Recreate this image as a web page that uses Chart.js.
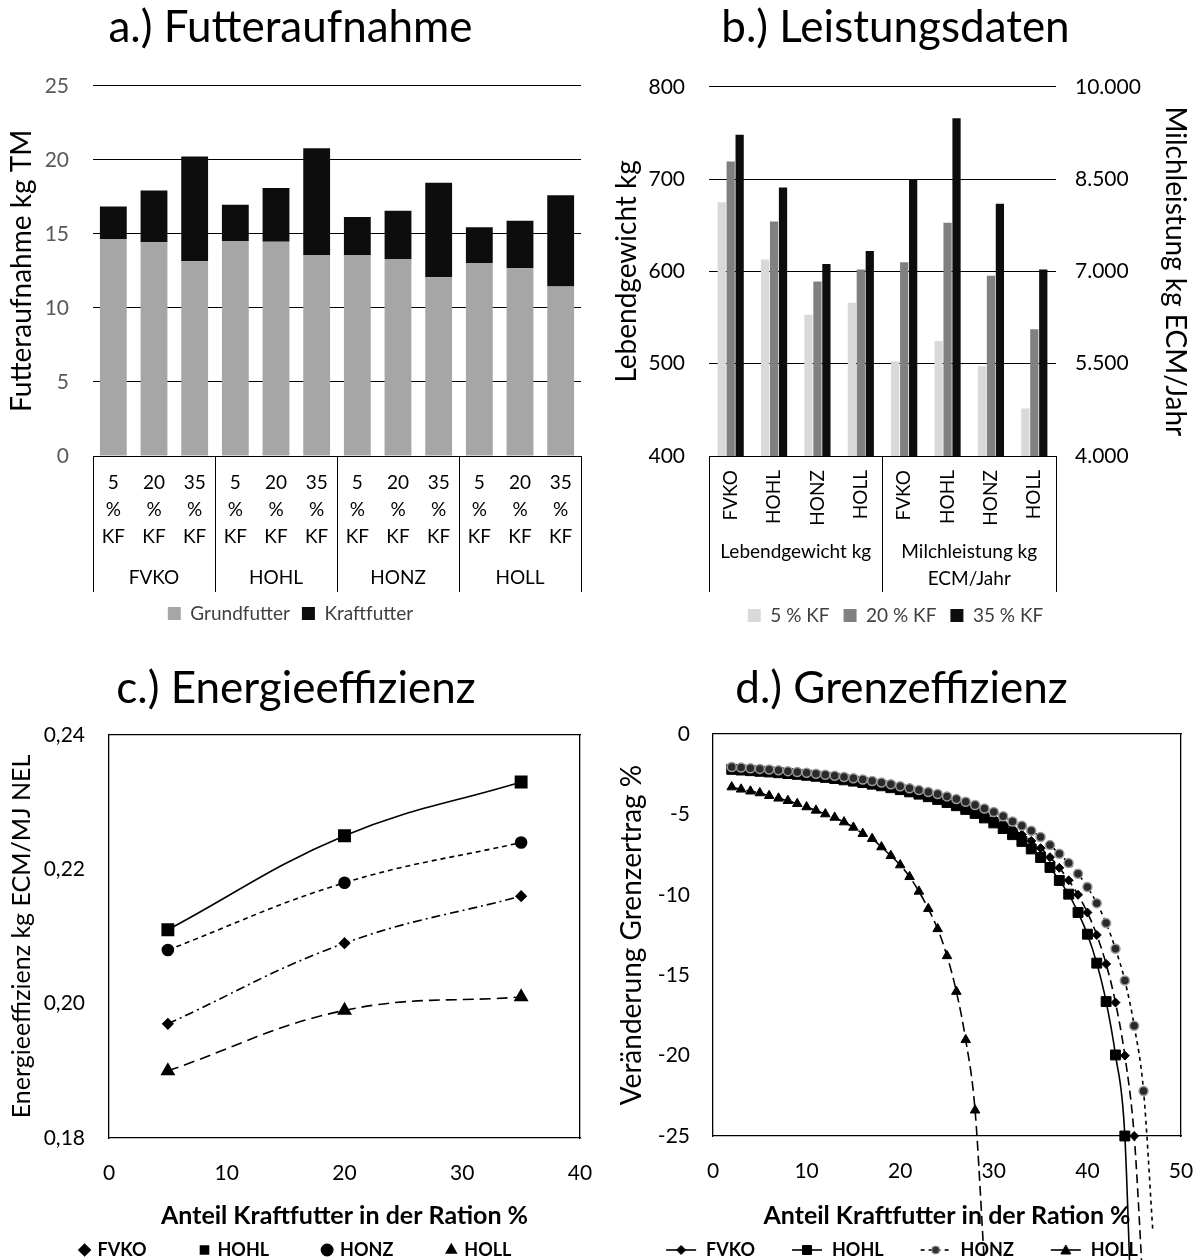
<!DOCTYPE html>
<html>
<head>
<meta charset="utf-8">
<script src="https://cdn.jsdelivr.net/npm/chart.js@4.4.1/dist/chart.umd.min.js"></script>
<style>
  body { margin: 0; background: #fff; overflow: hidden; }
  #wrap { position: relative; width: 1199px; height: 1260px; overflow: hidden; }
  canvas { position: absolute; }
</style>
</head>
<body>
<div id="wrap">
  <canvas id="ca" width="600" height="640" style="left:0;top:0"></canvas>
  <canvas id="cb" width="607" height="640" style="left:592px;top:0"></canvas>
  <canvas id="cc" width="596" height="640" style="left:0;top:640px"></canvas>
  <canvas id="cd" width="599" height="640" style="left:600px;top:640px"></canvas>
</div>
<script>
// ---- Daten ----
const rassen = ['FVKO', 'HOHL', 'HONZ', 'HOLL'];
const kfStufen = ['5', '20', '35'];

// a.) Futteraufnahme kg TM (je Rasse 5/20/35 % KF)
const grundfutter = [14.65, 14.43, 13.15, 14.52, 14.47, 13.58, 13.58, 13.31, 12.07, 13.04, 12.68, 11.45];
const kraftfutter = [2.20, 3.50, 7.07, 2.45, 3.62, 7.21, 2.56, 3.25, 6.38, 2.40, 3.20, 6.16];

// b.) Leistungsdaten
const gruppenB = ['Lebendgewicht kg', ['Milchleistung kg', 'ECM/Jahr']];
const lw5 = [675, 613, 553, 566];
const lw20 = [719, 654, 589, 602];
const lw35 = [748, 691, 608, 622];
const ml5 = [5540, 5870, 5460, 4770];
const ml20 = [7150, 7790, 6930, 6060];
const ml35 = [8500, 9490, 8100, 7030];

// c.) Energieeffizienz
const kfAnteil = [5, 20, 35];
const effFVKO = [0.197, 0.209, 0.216];
const effHOHL = [0.211, 0.225, 0.233];
const effHONZ = [0.208, 0.218, 0.224];
const effHOLL = [0.190, 0.199, 0.201];

// d.) Grenzeffizienz
const grenzKF = [2, 3, 4, 5, 6, 7, 8, 9, 10, 11, 12, 13, 14, 15, 16, 17, 18, 19, 20, 21, 22, 23, 24,
  25, 26, 27, 28, 29, 30, 31, 32, 33, 34, 35, 36, 37, 38, 39, 40, 41, 42, 43, 44, 45, 46, 47];
const grenzFVKO = [-2.10, -2.14, -2.18, -2.22, -2.26, -2.31, -2.36, -2.41, -2.47, -2.53, -2.60, -2.67,
  -2.74, -2.82, -2.91, -3.00, -3.10, -3.21, -3.33, -3.46, -3.60, -3.75, -3.91, -4.09, -4.28, -4.49,
  -4.72, -4.97, -5.25, -5.56, -5.90, -6.26, -6.65, -7.10, -7.66, -8.32, -9.10, -10.0, -11.1, -12.5,
  -14.3, -16.7, -20.0, -25.0, -35.0];
const grenzHOHL = [-2.20, -2.24, -2.28, -2.32, -2.36, -2.41, -2.46, -2.51, -2.57, -2.63, -2.70, -2.77,
  -2.85, -2.93, -3.02, -3.12, -3.22, -3.34, -3.46, -3.60, -3.74, -3.90, -4.07, -4.26, -4.46, -4.69,
  -4.94, -5.22, -5.53, -5.88, -6.26, -6.68, -7.15, -7.68, -8.30, -9.11, -9.96, -11.1, -12.45, -14.25,
  -16.64, -19.96, -25.0, -42.0];
const grenzHONZ = [-2.05, -2.09, -2.13, -2.17, -2.21, -2.26, -2.31, -2.36, -2.41, -2.47, -2.53, -2.60,
  -2.67, -2.75, -2.83, -2.92, -3.02, -3.13, -3.25, -3.38, -3.49, -3.61, -3.73, -3.88, -4.05, -4.21,
  -4.42, -4.63, -4.85, -5.12, -5.44, -5.71, -6.02, -6.41, -6.91, -7.45, -8.03, -8.69, -9.52, -10.52,
  -11.76, -13.36, -15.33, -18.15, -22.2, -31.0];
const grenzHOLL = [-3.30, -3.44, -3.56, -3.67, -3.84, -4.00, -4.15, -4.34, -4.54, -4.75, -4.98, -5.19,
  -5.48, -5.81, -6.20, -6.51, -7.03, -7.57, -8.15, -8.88, -9.79, -10.87, -12.12, -13.80, -16.02,
  -19.02, -23.40, -33.0];

// ---- Allgemeines ----
Chart.defaults.font.family = 'Lato, "Open Sans", sans-serif';
Chart.defaults.color = '#000';
Chart.defaults.animation = false;
Chart.defaults.plugins.tooltip.enabled = false;

// Trennstriche der Kategorieachse nur an Gruppengrenzen
const trenner = n => c => (c.index === undefined || c.index % n === 0) ? '#000' : 'rgba(0,0,0,0)';
const dePunkt = v => String(v).replace(/\B(?=(\d{3})+(?!\d))/g, '.');
const deKomma = v => v.toFixed(2).replace('.', ',');
const punkte = (xs, ys) => ys.map((y, i) => ({ x: xs[i], y: y }));

// ---- a.) Futteraufnahme ----
const aLabels = [];
rassen.forEach(() => kfStufen.forEach(k => aLabels.push([k, '%', 'KF'])));

new Chart(document.getElementById('ca'), {
  type: 'bar',
  data: {
    labels: aLabels,
    datasets: [
      { label: 'Grundfutter', data: grundfutter, backgroundColor: '#a6a6a6', barPercentage: 0.66, categoryPercentage: 1 },
      { label: 'Kraftfutter', data: kraftfutter, backgroundColor: '#0d0d0d', barPercentage: 0.66, categoryPercentage: 1 }
    ]
  },
  options: {
    responsive: false,
    layout: { padding: { left: 0, right: 19, top: 0, bottom: 18 } },
    plugins: {
      title: { display: true, text: 'a.) Futteraufnahme', color: '#000',
        font: { size: 44, weight: 'normal', lineHeight: 1.2 }, padding: { top: 1, bottom: 32 } },
      legend: { position: 'bottom', maxHeight: 30,
        labels: { boxWidth: 13, boxHeight: 13, padding: 12, color: '#404040', font: { size: 19 } } }
    },
    scales: {
      x: {
        stacked: true, weight: 0,
        grid: { drawOnChartArea: false, tickLength: 104, color: trenner(3) },
        border: { color: '#000' },
        ticks: { autoSkip: false, maxRotation: 0, padding: -90.5, color: '#000', font: { size: 19, lineHeight: '27px' } },
        afterFit: s => { s.height = 104; }
      },
      g: {
        type: 'category', labels: rassen, position: 'bottom', weight: 1, offset: true,
        grid: { offset: true, drawOnChartArea: false, tickLength: 32, color: '#000' },
        border: { display: false },
        ticks: { padding: -27.5, color: '#000', font: { size: 19, lineHeight: '27px' } },
        afterFit: s => { s.height = 32; }
      },
      y: {
        stacked: true, min: 0, max: 25,
        ticks: { stepSize: 5, padding: 24, color: '#595959', font: { size: 21 } },
        grid: { color: '#000', drawTicks: false },
        border: { display: false },
        title: { display: true, text: 'Futteraufnahme kg TM', color: '#000', font: { size: 28 }, padding: { top: 5, bottom: 0 } },
        afterFit: s => { s.width = 93; }
      }
    }
  }
});

// ---- b.) Leistungsdaten ----
const leer = [null, null, null, null];
const balkenB = (label, data, farbe, achse) => ({
  label: label, data: data, backgroundColor: farbe, yAxisID: achse,
  barPercentage: 0.92, categoryPercentage: 0.62, skipNull: true
});

new Chart(document.getElementById('cb'), {
  type: 'bar',
  data: {
    labels: rassen.concat(rassen),
    datasets: [
      balkenB('5 % KF', lw5.concat(leer), '#d9d9d9', 'y'),
      balkenB('20 % KF', lw20.concat(leer), '#808080', 'y'),
      balkenB('35 % KF', lw35.concat(leer), '#0d0d0d', 'y'),
      balkenB('5 % KF', leer.concat(ml5), '#d9d9d9', 'y2'),
      balkenB('20 % KF', leer.concat(ml20), '#808080', 'y2'),
      balkenB('35 % KF', leer.concat(ml35), '#0d0d0d', 'y2')
    ]
  },
  options: {
    responsive: false,
    layout: { padding: { left: 0, right: 0, top: 0, bottom: 18 } },
    plugins: {
      title: { display: true, text: 'b.) Leistungsdaten', color: '#000',
        font: { size: 44, weight: 'normal', lineHeight: 1.2 }, padding: { top: 1, bottom: 33 } },
      legend: { position: 'bottom', maxHeight: 30,
        labels: { boxWidth: 13, boxHeight: 13, padding: 14, color: '#404040', font: { size: 19 },
          filter: item => item.datasetIndex < 3 } }
    },
    scales: {
      x: {
        weight: 0,
        grid: { drawOnChartArea: false, tickLength: 80, color: trenner(4) },
        border: { color: '#000' },
        ticks: { autoSkip: false, minRotation: 90, maxRotation: 90, padding: -66, color: '#000', font: { size: 19 } },
        afterFit: s => { s.height = 80; }
      },
      g: {
        type: 'category', labels: gruppenB, position: 'bottom', weight: 1, offset: true,
        grid: { offset: true, drawOnChartArea: false, tickLength: 56, color: '#000' },
        border: { display: false },
        ticks: { padding: -53.5, color: '#000', font: { size: 19, lineHeight: '27px' } },
        afterFit: s => { s.height = 56; }
      },
      y: {
        position: 'left', min: 400, max: 800,
        ticks: { stepSize: 100, padding: 24, color: '#000', font: { size: 21 } },
        grid: { color: '#000', drawTicks: false },
        border: { display: false },
        title: { display: true, text: 'Lebendgewicht kg', color: '#000', font: { size: 28 }, padding: { top: 18, bottom: 0 } },
        afterFit: s => { s.width = 117; }
      },
      y2: {
        position: 'right', min: 4000, max: 10000,
        ticks: { stepSize: 1500, padding: 19, color: '#000', font: { size: 21 }, callback: v => dePunkt(v) },
        grid: { drawOnChartArea: false, drawTicks: false },
        border: { display: false },
        title: { display: true, text: 'Milchleistung kg ECM/Jahr', color: '#000', font: { size: 28 }, padding: { top: 7, bottom: 0 } },
        afterFit: s => { s.width = 143; }
      }
    }
  }
});

// ---- c.) Energieeffizienz ----
const linieC = (label, ys, form, r, dash) => ({
  label: label, data: punkte(kfAnteil, ys), pointStyle: form, pointRadius: r,
  borderColor: '#000', backgroundColor: '#000', pointBackgroundColor: '#000', pointBorderColor: '#000',
  borderWidth: 1.6, borderDash: dash, tension: 0.4
});
// obere und rechte Achse nur als Rahmenlinie
const rahmen = pos => ({
  type: 'linear', position: pos, display: true, ticks: { display: false },
  grid: { display: false, drawTicks: false }, border: { color: '#000', width: 1.3 },
  afterFit: s => { if (pos === 'top') s.height = 0; else s.width = 0; }
});
// x-Achse: Abstand der Beschriftung ueber unsichtbare Tick-Striche statt ticks.padding
const xLinear = (max, hoehe, titelAbstand) => ({
  type: 'linear', min: 0, max: max,
  ticks: { stepSize: 10, padding: 0, color: '#000', font: { size: 21 } },
  grid: { display: true, drawOnChartArea: false, drawTicks: true, tickLength: 23, color: 'rgba(0,0,0,0)' },
  border: { color: '#000', width: 1.3 },
  title: { display: true, text: 'Anteil Kraftfutter in der Ration %', color: '#000',
    font: { size: 25, weight: 'bold' }, padding: { top: 0, bottom: titelAbstand } },
  afterFit: s => { s.height = hoehe; }
});

new Chart(document.getElementById('cc'), {
  type: 'line',
  data: {
    datasets: [
      linieC('FVKO', effFVKO, 'rectRot', 5, [9, 4, 2, 4]),
      linieC('HOHL', effHOHL, 'rect', 8, []),
      linieC('HONZ', effHONZ, 'circle', 5.5, [5, 4]),
      linieC('HOLL', effHOLL, 'triangle', 7, [11, 6])
    ]
  },
  options: {
    responsive: false,
    layout: { padding: { left: 12, right: 16, top: 0, bottom: 13 } },
    plugins: {
      title: { display: true, text: 'c.) Energieeffizienz', color: '#000',
        font: { size: 44, weight: 'normal', lineHeight: 1.2 }, padding: { top: 22.6, bottom: 19.6 } },
      legend: { position: 'bottom', maxHeight: 80,
        labels: { usePointStyle: true, boxWidth: 8, boxHeight: 8, padding: 54, color: '#000', font: { size: 18, weight: 'bold' } } }
    },
    scales: {
      x: xLinear(40, 49, -44),
      xt: rahmen('top'),
      y: {
        min: 0.18, max: 0.24,
        ticks: { stepSize: 0.02, padding: 24, color: '#000', font: { size: 21 }, callback: v => deKomma(v) },
        grid: { display: false, drawTicks: false },
        border: { color: '#000', width: 1.3 },
        title: { display: true, text: 'Energieeffizienz kg ECM/MJ NEL', color: '#000', font: { size: 25 }, padding: { top: -5, bottom: 0 } },
        afterFit: s => { s.width = 97; }
      },
      yr: rahmen('right')
    }
  }
});

// ---- d.) Grenzeffizienz ----
function linienSymbol(dash, form, fill, stroke) {
  const c = document.createElement('canvas');
  c.width = 32; c.height = 16;
  const g = c.getContext('2d');
  g.lineWidth = 1.6; g.strokeStyle = '#000'; g.setLineDash(dash);
  g.beginPath(); g.moveTo(1, 8); g.lineTo(31, 8); g.stroke();
  g.setLineDash([]);
  g.fillStyle = fill; g.strokeStyle = stroke; g.lineWidth = 1;
  g.beginPath();
  if (form === 'rect') g.rect(11.5, 3.5, 9, 9);
  if (form === 'rectRot') { g.moveTo(16, 3.5); g.lineTo(20.5, 8); g.lineTo(16, 12.5); g.lineTo(11.5, 8); g.closePath(); }
  if (form === 'circle') g.arc(16, 8, 4, 0, Math.PI * 2);
  if (form === 'triangle') { g.moveTo(16, 3); g.lineTo(21, 12); g.lineTo(11, 12); g.closePath(); }
  g.fill(); g.stroke();
  return c;
}
const symboleD = [
  linienSymbol([], 'rectRot', '#000', '#000'),
  linienSymbol([], 'rect', '#000', '#000'),
  linienSymbol([4, 4], 'circle', '#333', '#999'),
  linienSymbol([], 'triangle', '#000', '#000')
];

const linieD = (label, ys, form, r, dash, order) => ({
  label: label, data: punkte(grenzKF, ys), pointStyle: form, pointRadius: r, order: order,
  borderColor: '#000', backgroundColor: '#000', pointBackgroundColor: '#000', pointBorderColor: '#000',
  pointBorderWidth: 1, borderWidth: 1.6, borderDash: dash,
  cubicInterpolationMode: 'monotone', capBezierPoints: false,
  clip: { left: 0, top: 0, right: 0, bottom: false }
});
const honz = linieD('HONZ', grenzHONZ, 'circle', 4.5, [4, 4], 0);
honz.pointBackgroundColor = '#2a2a2a';
honz.pointBorderColor = '#9a9a9a';
honz.pointBorderWidth = 1.5;

new Chart(document.getElementById('cd'), {
  type: 'line',
  data: {
    datasets: [
      linieD('FVKO', grenzFVKO, 'rectRot', 4.5, [9, 5], 1),
      linieD('HOHL', grenzHOHL, 'rect', 7, [], 2),
      honz,
      linieD('HOLL', grenzHOLL, 'triangle', 5.5, [10, 5], 3)
    ]
  },
  options: {
    responsive: false,
    layout: { padding: { left: 22, right: 18, top: 0, bottom: 15 } },
    plugins: {
      title: { display: true, text: 'd.) Grenzeffizienz', color: '#000',
        font: { size: 44, weight: 'normal', lineHeight: 1.2 }, padding: { top: 22.6, bottom: 18.6 } },
      legend: { position: 'bottom', maxHeight: 60,
        labels: {
          usePointStyle: true, pointStyleWidth: 32, boxHeight: 16, padding: 36, color: '#000',
          font: { size: 18, weight: 'bold' },
          sort: (a, b) => a.datasetIndex - b.datasetIndex,
          generateLabels: chart => Chart.defaults.plugins.legend.labels.generateLabels(chart)
            .map(it => Object.assign(it, { pointStyle: symboleD[it.datasetIndex] }))
        } }
    },
    scales: {
      x: xLinear(50, 69, -26),
      xt: rahmen('top'),
      y: {
        min: -25, max: 0,
        ticks: { stepSize: 5, padding: 23, color: '#000', font: { size: 21 } },
        grid: { display: false, drawTicks: false },
        border: { color: '#000', width: 1.3 },
        title: { display: true, text: 'Veränderung Grenzertrag %', color: '#000', font: { size: 28 }, padding: { top: -7, bottom: 0 } },
        afterFit: s => { s.width = 91; }
      },
      yr: rahmen('right')
    }
  }
});
</script>
</body>
</html>
